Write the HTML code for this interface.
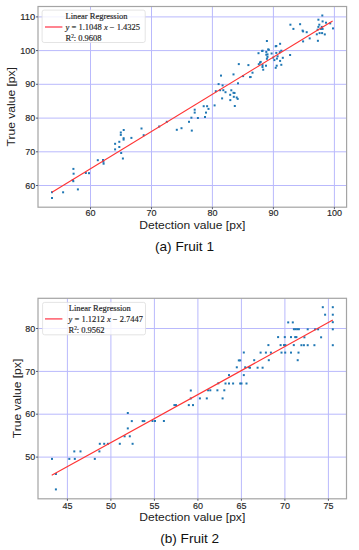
<!DOCTYPE html>
<html><head><meta charset="utf-8"><style>
html,body{margin:0;padding:0;background:#fff;}
body{width:359px;height:550px;overflow:hidden;}
svg{display:block;}
.g{stroke:#b9b9fc;stroke-width:1;}
.f{fill:none;stroke:#a4a4a4;stroke-width:1.2;}
.t{stroke:#555a70;stroke-width:1;}
.p{fill:#1f77b4;}
.r{stroke:#ff3434;stroke-width:1.15;}
.r2{stroke:#ff5060;stroke-width:1.4;}
.lg{fill:#fff;fill-opacity:0.8;stroke:#ddd;stroke-width:0.8;}
.tl{font-family:"Liberation Sans",sans-serif;font-size:9.7px;fill:#262626;stroke:#262626;stroke-width:0.15px;}
.al{font-family:"Liberation Sans",sans-serif;font-size:10.5px;fill:#222;}
.cap{font-family:"Liberation Sans",sans-serif;font-size:12.1px;fill:#111;}
.lt{font-family:"Liberation Serif",serif;font-size:8.5px;fill:#222;stroke:#222;stroke-width:0.15px;}
.sup{font-size:5.5px;}
</style></head><body>
<svg width="359" height="550" viewBox="0 0 359 550">
<rect x="0" y="0" width="359" height="550" fill="#fff"/>
<line x1="90.5" y1="6.5" x2="90.5" y2="207.2" class="g"/>
<line x1="151.5" y1="6.5" x2="151.5" y2="207.2" class="g"/>
<line x1="212.4" y1="6.5" x2="212.4" y2="207.2" class="g"/>
<line x1="273.4" y1="6.5" x2="273.4" y2="207.2" class="g"/>
<line x1="334.4" y1="6.5" x2="334.4" y2="207.2" class="g"/>
<line x1="38.0" y1="185.5" x2="346.6" y2="185.5" class="g"/>
<line x1="38.0" y1="151.8" x2="346.6" y2="151.8" class="g"/>
<line x1="38.0" y1="118.1" x2="346.6" y2="118.1" class="g"/>
<line x1="38.0" y1="84.3" x2="346.6" y2="84.3" class="g"/>
<line x1="38.0" y1="50.6" x2="346.6" y2="50.6" class="g"/>
<line x1="38.0" y1="16.9" x2="346.6" y2="16.9" class="g"/>
<rect x="51.0" y="197.0" width="2" height="2" class="p"/>
<rect x="51.0" y="191.2" width="2" height="2" class="p"/>
<rect x="62.1" y="191.3" width="2" height="2" class="p"/>
<rect x="72.4" y="167.9" width="2" height="2" class="p"/>
<rect x="72.6" y="172.7" width="2" height="2" class="p"/>
<rect x="71.8" y="179.1" width="2" height="2" class="p"/>
<rect x="72.3" y="180.2" width="2" height="2" class="p"/>
<rect x="76.9" y="188.4" width="2" height="2" class="p"/>
<rect x="84.8" y="172.0" width="2" height="2" class="p"/>
<rect x="88.0" y="172.2" width="2" height="2" class="p"/>
<rect x="96.8" y="159.2" width="2" height="2" class="p"/>
<rect x="102.0" y="159.0" width="2" height="2" class="p"/>
<rect x="102.4" y="160.8" width="2" height="2" class="p"/>
<rect x="102.6" y="162.7" width="2" height="2" class="p"/>
<rect x="114.1" y="148.4" width="2" height="2" class="p"/>
<rect x="114.1" y="142.8" width="2" height="2" class="p"/>
<rect x="118.3" y="146.0" width="2" height="2" class="p"/>
<rect x="118.3" y="140.8" width="2" height="2" class="p"/>
<rect x="120.2" y="152.0" width="2" height="2" class="p"/>
<rect x="121.9" y="157.5" width="2" height="2" class="p"/>
<rect x="119.8" y="131.5" width="2" height="2" class="p"/>
<rect x="119.8" y="133.9" width="2" height="2" class="p"/>
<rect x="122.7" y="129.0" width="2" height="2" class="p"/>
<rect x="122.6" y="137.2" width="2" height="2" class="p"/>
<rect x="122.6" y="138.6" width="2" height="2" class="p"/>
<rect x="130.4" y="136.9" width="2" height="2" class="p"/>
<rect x="140.5" y="127.5" width="2" height="2" class="p"/>
<rect x="142.7" y="134.2" width="2" height="2" class="p"/>
<rect x="158.2" y="125.5" width="2" height="2" class="p"/>
<rect x="165.8" y="120.8" width="2" height="2" class="p"/>
<rect x="175.8" y="128.8" width="2" height="2" class="p"/>
<rect x="180.5" y="127.2" width="2" height="2" class="p"/>
<rect x="188.0" y="120.8" width="2" height="2" class="p"/>
<rect x="190.8" y="129.6" width="2" height="2" class="p"/>
<rect x="190.4" y="116.7" width="2" height="2" class="p"/>
<rect x="196.9" y="117.0" width="2" height="2" class="p"/>
<rect x="204.0" y="116.0" width="2" height="2" class="p"/>
<rect x="193.7" y="108.7" width="2" height="2" class="p"/>
<rect x="193.7" y="111.6" width="2" height="2" class="p"/>
<rect x="202.7" y="105.2" width="2" height="2" class="p"/>
<rect x="206.1" y="105.2" width="2" height="2" class="p"/>
<rect x="207.5" y="107.9" width="2" height="2" class="p"/>
<rect x="205.0" y="111.6" width="2" height="2" class="p"/>
<rect x="213.6" y="104.4" width="2" height="2" class="p"/>
<rect x="214.8" y="90.2" width="2" height="2" class="p"/>
<rect x="217.6" y="83.1" width="2" height="2" class="p"/>
<rect x="220.0" y="74.6" width="2" height="2" class="p"/>
<rect x="221.1" y="97.4" width="2" height="2" class="p"/>
<rect x="219.1" y="89.2" width="2" height="2" class="p"/>
<rect x="221.6" y="84.4" width="2" height="2" class="p"/>
<rect x="222.3" y="89.2" width="2" height="2" class="p"/>
<rect x="224.5" y="91.2" width="2" height="2" class="p"/>
<rect x="229.2" y="93.8" width="2" height="2" class="p"/>
<rect x="230.3" y="89.3" width="2" height="2" class="p"/>
<rect x="232.5" y="91.8" width="2" height="2" class="p"/>
<rect x="233.5" y="92.0" width="2" height="2" class="p"/>
<rect x="229.3" y="99.1" width="2" height="2" class="p"/>
<rect x="232.8" y="95.8" width="2" height="2" class="p"/>
<rect x="235.7" y="96.5" width="2" height="2" class="p"/>
<rect x="236.7" y="97.9" width="2" height="2" class="p"/>
<rect x="233.8" y="105.0" width="2" height="2" class="p"/>
<rect x="232.5" y="73.4" width="2" height="2" class="p"/>
<rect x="237.0" y="82.3" width="2" height="2" class="p"/>
<rect x="237.8" y="63.1" width="2" height="2" class="p"/>
<rect x="242.1" y="75.1" width="2" height="2" class="p"/>
<rect x="247.4" y="64.1" width="2" height="2" class="p"/>
<rect x="249.1" y="76.1" width="2" height="2" class="p"/>
<rect x="251.5" y="71.7" width="2" height="2" class="p"/>
<rect x="249.6" y="76.0" width="2" height="2" class="p"/>
<rect x="265.9" y="40.0" width="2" height="2" class="p"/>
<rect x="279.1" y="42.8" width="2" height="2" class="p"/>
<rect x="274.7" y="45.3" width="2" height="2" class="p"/>
<rect x="275.3" y="45.0" width="2" height="2" class="p"/>
<rect x="267.2" y="48.4" width="2" height="2" class="p"/>
<rect x="267.8" y="48.8" width="2" height="2" class="p"/>
<rect x="261.2" y="50.0" width="2" height="2" class="p"/>
<rect x="261.5" y="49.7" width="2" height="2" class="p"/>
<rect x="257.5" y="52.2" width="2" height="2" class="p"/>
<rect x="265.3" y="50.9" width="2" height="2" class="p"/>
<rect x="265.3" y="53.7" width="2" height="2" class="p"/>
<rect x="266.5" y="53.4" width="2" height="2" class="p"/>
<rect x="270.6" y="52.5" width="2" height="2" class="p"/>
<rect x="275.3" y="51.9" width="2" height="2" class="p"/>
<rect x="278.8" y="51.2" width="2" height="2" class="p"/>
<rect x="280.3" y="49.7" width="2" height="2" class="p"/>
<rect x="289.1" y="54.0" width="2" height="2" class="p"/>
<rect x="266.5" y="55.9" width="2" height="2" class="p"/>
<rect x="265.9" y="57.8" width="2" height="2" class="p"/>
<rect x="272.2" y="56.6" width="2" height="2" class="p"/>
<rect x="276.6" y="55.3" width="2" height="2" class="p"/>
<rect x="275.9" y="57.6" width="2" height="2" class="p"/>
<rect x="281.8" y="56.8" width="2" height="2" class="p"/>
<rect x="273.4" y="59.1" width="2" height="2" class="p"/>
<rect x="279.1" y="59.9" width="2" height="2" class="p"/>
<rect x="259.7" y="60.9" width="2" height="2" class="p"/>
<rect x="259.0" y="61.6" width="2" height="2" class="p"/>
<rect x="257.8" y="63.2" width="2" height="2" class="p"/>
<rect x="261.5" y="64.1" width="2" height="2" class="p"/>
<rect x="265.0" y="64.7" width="2" height="2" class="p"/>
<rect x="280.3" y="63.8" width="2" height="2" class="p"/>
<rect x="275.7" y="64.7" width="2" height="2" class="p"/>
<rect x="274.7" y="66.8" width="2" height="2" class="p"/>
<rect x="261.5" y="66.0" width="2" height="2" class="p"/>
<rect x="262.2" y="68.7" width="2" height="2" class="p"/>
<rect x="289.4" y="23.7" width="2" height="2" class="p"/>
<rect x="292.4" y="27.9" width="2" height="2" class="p"/>
<rect x="299.1" y="23.2" width="2" height="2" class="p"/>
<rect x="301.6" y="29.6" width="2" height="2" class="p"/>
<rect x="302.1" y="30.4" width="2" height="2" class="p"/>
<rect x="305.7" y="31.2" width="2" height="2" class="p"/>
<rect x="302.1" y="40.4" width="2" height="2" class="p"/>
<rect x="308.7" y="37.4" width="2" height="2" class="p"/>
<rect x="316.9" y="39.8" width="2" height="2" class="p"/>
<rect x="315.8" y="33.3" width="2" height="2" class="p"/>
<rect x="318.6" y="32.1" width="2" height="2" class="p"/>
<rect x="321.1" y="32.1" width="2" height="2" class="p"/>
<rect x="323.8" y="33.4" width="2" height="2" class="p"/>
<rect x="316.6" y="28.7" width="2" height="2" class="p"/>
<rect x="317.4" y="25.9" width="2" height="2" class="p"/>
<rect x="318.3" y="23.7" width="2" height="2" class="p"/>
<rect x="320.0" y="27.9" width="2" height="2" class="p"/>
<rect x="320.8" y="25.9" width="2" height="2" class="p"/>
<rect x="321.6" y="27.9" width="2" height="2" class="p"/>
<rect x="317.4" y="18.7" width="2" height="2" class="p"/>
<rect x="321.6" y="20.4" width="2" height="2" class="p"/>
<rect x="321.3" y="14.5" width="2" height="2" class="p"/>
<rect x="325.0" y="21.7" width="2" height="2" class="p"/>
<rect x="329.2" y="22.4" width="2" height="2" class="p"/>
<rect x="332.0" y="27.4" width="2" height="2" class="p"/>
<line x1="52.0" y1="192.3" x2="332.6" y2="20.9" class="r"/>
<rect x="42.1" y="10.1" width="103.1" height="32.4" rx="2" class="lg"/>
<line x1="45.0" y1="27.0" x2="62.4" y2="27.0" class="r2"/>
<text x="96.5" y="19.3" class="lt" text-anchor="middle">Linear Regression</text>
<text x="65.6" y="30.2" class="lt"><tspan font-style="italic">y</tspan> = 1.1048 <tspan font-style="italic">x</tspan> − 1.4325</text>
<text x="65.6" y="40.9" class="lt">R<tspan class="sup" dy="-3.0">2</tspan><tspan dx="-0.3" dy="3.0">: 0.9608</tspan></text>
<rect x="38.0" y="6.5" width="308.6" height="200.7" class="f"/>
<line x1="90.5" y1="207.2" x2="90.5" y2="209.2" class="t"/>
<line x1="151.5" y1="207.2" x2="151.5" y2="209.2" class="t"/>
<line x1="212.4" y1="207.2" x2="212.4" y2="209.2" class="t"/>
<line x1="273.4" y1="207.2" x2="273.4" y2="209.2" class="t"/>
<line x1="334.4" y1="207.2" x2="334.4" y2="209.2" class="t"/>
<line x1="36.0" y1="185.5" x2="38.0" y2="185.5" class="t"/>
<line x1="36.0" y1="151.8" x2="38.0" y2="151.8" class="t"/>
<line x1="36.0" y1="118.1" x2="38.0" y2="118.1" class="t"/>
<line x1="36.0" y1="84.3" x2="38.0" y2="84.3" class="t"/>
<line x1="36.0" y1="50.6" x2="38.0" y2="50.6" class="t"/>
<line x1="36.0" y1="16.9" x2="38.0" y2="16.9" class="t"/>
<text x="90.5" y="216.29999999999998" class="tl" text-anchor="middle" textLength="10.00" lengthAdjust="spacingAndGlyphs">60</text>
<text x="151.5" y="216.29999999999998" class="tl" text-anchor="middle" textLength="10.00" lengthAdjust="spacingAndGlyphs">70</text>
<text x="212.4" y="216.29999999999998" class="tl" text-anchor="middle" textLength="10.00" lengthAdjust="spacingAndGlyphs">80</text>
<text x="273.4" y="216.29999999999998" class="tl" text-anchor="middle" textLength="10.00" lengthAdjust="spacingAndGlyphs">90</text>
<text x="334.4" y="216.29999999999998" class="tl" text-anchor="middle" textLength="15.00" lengthAdjust="spacingAndGlyphs">100</text>
<text x="35.3" y="188.6" class="tl" text-anchor="end" textLength="10.00" lengthAdjust="spacingAndGlyphs">60</text>
<text x="35.3" y="154.9" class="tl" text-anchor="end" textLength="10.00" lengthAdjust="spacingAndGlyphs">70</text>
<text x="35.3" y="121.19999999999999" class="tl" text-anchor="end" textLength="10.00" lengthAdjust="spacingAndGlyphs">80</text>
<text x="35.3" y="87.39999999999999" class="tl" text-anchor="end" textLength="10.00" lengthAdjust="spacingAndGlyphs">90</text>
<text x="35.3" y="53.7" class="tl" text-anchor="end" textLength="15.00" lengthAdjust="spacingAndGlyphs">100</text>
<text x="35.3" y="20.0" class="tl" text-anchor="end" textLength="15.00" lengthAdjust="spacingAndGlyphs">110</text>
<text x="192.3" y="228.7" class="al" text-anchor="middle" textLength="106" lengthAdjust="spacingAndGlyphs">Detection value [px]</text>
<text transform="translate(15.3,106.8) rotate(-90)" x="0" y="0" class="al" text-anchor="middle" textLength="79.5" lengthAdjust="spacingAndGlyphs">True value [px]</text>
<text x="184.5" y="251.0" class="cap" text-anchor="middle" textLength="59" lengthAdjust="spacingAndGlyphs">(a) Fruit 1</text>
<line x1="67.4" y1="298.3" x2="67.4" y2="498.8" class="g"/>
<line x1="110.9" y1="298.3" x2="110.9" y2="498.8" class="g"/>
<line x1="154.4" y1="298.3" x2="154.4" y2="498.8" class="g"/>
<line x1="197.9" y1="298.3" x2="197.9" y2="498.8" class="g"/>
<line x1="241.4" y1="298.3" x2="241.4" y2="498.8" class="g"/>
<line x1="284.9" y1="298.3" x2="284.9" y2="498.8" class="g"/>
<line x1="328.4" y1="298.3" x2="328.4" y2="498.8" class="g"/>
<line x1="38.0" y1="457.1" x2="346.5" y2="457.1" class="g"/>
<line x1="38.0" y1="414.2" x2="346.5" y2="414.2" class="g"/>
<line x1="38.0" y1="371.4" x2="346.5" y2="371.4" class="g"/>
<line x1="38.0" y1="328.5" x2="346.5" y2="328.5" class="g"/>
<rect x="51.0" y="457.9" width="2" height="2" class="p"/>
<rect x="54.9" y="473.0" width="2" height="2" class="p"/>
<rect x="54.9" y="488.4" width="2" height="2" class="p"/>
<rect x="68.3" y="457.9" width="2" height="2" class="p"/>
<rect x="73.8" y="457.9" width="2" height="2" class="p"/>
<rect x="73.3" y="450.4" width="2" height="2" class="p"/>
<rect x="79.5" y="450.4" width="2" height="2" class="p"/>
<rect x="93.8" y="457.9" width="2" height="2" class="p"/>
<rect x="98.4" y="450.4" width="2" height="2" class="p"/>
<rect x="98.8" y="442.8" width="2" height="2" class="p"/>
<rect x="103.2" y="442.8" width="2" height="2" class="p"/>
<rect x="106.9" y="442.8" width="2" height="2" class="p"/>
<rect x="118.8" y="442.8" width="2" height="2" class="p"/>
<rect x="123.6" y="435.3" width="2" height="2" class="p"/>
<rect x="128.8" y="435.3" width="2" height="2" class="p"/>
<rect x="131.6" y="442.8" width="2" height="2" class="p"/>
<rect x="126.8" y="427.4" width="2" height="2" class="p"/>
<rect x="130.8" y="420.1" width="2" height="2" class="p"/>
<rect x="141.7" y="420.1" width="2" height="2" class="p"/>
<rect x="143.3" y="420.1" width="2" height="2" class="p"/>
<rect x="126.8" y="412.0" width="2" height="2" class="p"/>
<rect x="151.5" y="420.0" width="2" height="2" class="p"/>
<rect x="154.0" y="420.0" width="2" height="2" class="p"/>
<rect x="162.9" y="420.0" width="2" height="2" class="p"/>
<rect x="173.4" y="404.1" width="2" height="2" class="p"/>
<rect x="175.0" y="404.1" width="2" height="2" class="p"/>
<rect x="187.8" y="404.1" width="2" height="2" class="p"/>
<rect x="192.0" y="404.1" width="2" height="2" class="p"/>
<rect x="189.8" y="397.4" width="2" height="2" class="p"/>
<rect x="189.8" y="389.5" width="2" height="2" class="p"/>
<rect x="198.9" y="397.4" width="2" height="2" class="p"/>
<rect x="205.8" y="397.4" width="2" height="2" class="p"/>
<rect x="221.6" y="397.4" width="2" height="2" class="p"/>
<rect x="207.1" y="389.3" width="2" height="2" class="p"/>
<rect x="209.3" y="389.3" width="2" height="2" class="p"/>
<rect x="216.4" y="389.3" width="2" height="2" class="p"/>
<rect x="223.3" y="389.3" width="2" height="2" class="p"/>
<rect x="217.3" y="382.3" width="2" height="2" class="p"/>
<rect x="224.5" y="382.5" width="2" height="2" class="p"/>
<rect x="228.0" y="382.5" width="2" height="2" class="p"/>
<rect x="232.1" y="382.5" width="2" height="2" class="p"/>
<rect x="239.2" y="382.5" width="2" height="2" class="p"/>
<rect x="240.5" y="382.5" width="2" height="2" class="p"/>
<rect x="245.5" y="382.5" width="2" height="2" class="p"/>
<rect x="228.0" y="374.1" width="2" height="2" class="p"/>
<rect x="242.8" y="374.1" width="2" height="2" class="p"/>
<rect x="235.8" y="366.3" width="2" height="2" class="p"/>
<rect x="244.2" y="366.3" width="2" height="2" class="p"/>
<rect x="247.9" y="366.3" width="2" height="2" class="p"/>
<rect x="237.8" y="359.4" width="2" height="2" class="p"/>
<rect x="239.2" y="359.4" width="2" height="2" class="p"/>
<rect x="242.8" y="351.5" width="2" height="2" class="p"/>
<rect x="249.0" y="366.7" width="2" height="2" class="p"/>
<rect x="256.6" y="366.7" width="2" height="2" class="p"/>
<rect x="261.6" y="366.7" width="2" height="2" class="p"/>
<rect x="253.2" y="359.2" width="2" height="2" class="p"/>
<rect x="259.6" y="351.6" width="2" height="2" class="p"/>
<rect x="264.9" y="351.6" width="2" height="2" class="p"/>
<rect x="269.9" y="351.6" width="2" height="2" class="p"/>
<rect x="267.8" y="359.2" width="2" height="2" class="p"/>
<rect x="267.4" y="344.1" width="2" height="2" class="p"/>
<rect x="280.5" y="351.6" width="2" height="2" class="p"/>
<rect x="284.2" y="351.6" width="2" height="2" class="p"/>
<rect x="290.0" y="351.6" width="2" height="2" class="p"/>
<rect x="296.7" y="359.2" width="2" height="2" class="p"/>
<rect x="297.5" y="351.6" width="2" height="2" class="p"/>
<rect x="279.6" y="344.1" width="2" height="2" class="p"/>
<rect x="283.0" y="344.1" width="2" height="2" class="p"/>
<rect x="284.4" y="344.1" width="2" height="2" class="p"/>
<rect x="292.8" y="344.1" width="2" height="2" class="p"/>
<rect x="277.1" y="336.1" width="2" height="2" class="p"/>
<rect x="283.8" y="336.1" width="2" height="2" class="p"/>
<rect x="290.0" y="336.1" width="2" height="2" class="p"/>
<rect x="294.2" y="336.1" width="2" height="2" class="p"/>
<rect x="295.4" y="336.1" width="2" height="2" class="p"/>
<rect x="287.2" y="321.4" width="2" height="2" class="p"/>
<rect x="291.8" y="321.4" width="2" height="2" class="p"/>
<rect x="292.9" y="328.2" width="2" height="2" class="p"/>
<rect x="294.5" y="328.2" width="2" height="2" class="p"/>
<rect x="296.2" y="328.2" width="2" height="2" class="p"/>
<rect x="297.9" y="328.2" width="2" height="2" class="p"/>
<rect x="306.7" y="328.3" width="2" height="2" class="p"/>
<rect x="314.1" y="328.3" width="2" height="2" class="p"/>
<rect x="317.1" y="328.3" width="2" height="2" class="p"/>
<rect x="331.8" y="328.3" width="2" height="2" class="p"/>
<rect x="303.4" y="336.3" width="2" height="2" class="p"/>
<rect x="320.1" y="336.3" width="2" height="2" class="p"/>
<rect x="300.4" y="344.2" width="2" height="2" class="p"/>
<rect x="302.9" y="344.2" width="2" height="2" class="p"/>
<rect x="306.7" y="344.2" width="2" height="2" class="p"/>
<rect x="313.4" y="344.2" width="2" height="2" class="p"/>
<rect x="331.8" y="344.2" width="2" height="2" class="p"/>
<rect x="321.8" y="306.2" width="2" height="2" class="p"/>
<rect x="331.8" y="306.2" width="2" height="2" class="p"/>
<rect x="324.1" y="313.7" width="2" height="2" class="p"/>
<rect x="331.8" y="313.7" width="2" height="2" class="p"/>
<rect x="331.8" y="321.2" width="2" height="2" class="p"/>
<line x1="51.7" y1="475.3" x2="332.8" y2="320.1" class="r"/>
<rect x="42.6" y="302.4" width="102.9" height="32.400000000000034" rx="2" class="lg"/>
<line x1="45.0" y1="318.9" x2="62.4" y2="318.9" class="r2"/>
<text x="99.8" y="310.6" class="lt" text-anchor="middle">Linear Regression</text>
<text x="68.6" y="321.6" class="lt"><tspan font-style="italic">y</tspan> = 1.1212 <tspan font-style="italic">x</tspan> − 2.7447</text>
<text x="68.6" y="332.5" class="lt">R<tspan class="sup" dy="-3.0">2</tspan><tspan dx="-0.3" dy="3.0">: 0.9562</tspan></text>
<rect x="38.0" y="298.3" width="308.5" height="200.5" class="f"/>
<line x1="67.4" y1="498.8" x2="67.4" y2="500.8" class="t"/>
<line x1="110.9" y1="498.8" x2="110.9" y2="500.8" class="t"/>
<line x1="154.4" y1="498.8" x2="154.4" y2="500.8" class="t"/>
<line x1="197.9" y1="498.8" x2="197.9" y2="500.8" class="t"/>
<line x1="241.4" y1="498.8" x2="241.4" y2="500.8" class="t"/>
<line x1="284.9" y1="498.8" x2="284.9" y2="500.8" class="t"/>
<line x1="328.4" y1="498.8" x2="328.4" y2="500.8" class="t"/>
<line x1="36.0" y1="457.1" x2="38.0" y2="457.1" class="t"/>
<line x1="36.0" y1="414.2" x2="38.0" y2="414.2" class="t"/>
<line x1="36.0" y1="371.4" x2="38.0" y2="371.4" class="t"/>
<line x1="36.0" y1="328.5" x2="38.0" y2="328.5" class="t"/>
<text x="67.4" y="508.5" class="tl" text-anchor="middle" textLength="10.00" lengthAdjust="spacingAndGlyphs">45</text>
<text x="110.9" y="508.5" class="tl" text-anchor="middle" textLength="10.00" lengthAdjust="spacingAndGlyphs">50</text>
<text x="154.4" y="508.5" class="tl" text-anchor="middle" textLength="10.00" lengthAdjust="spacingAndGlyphs">55</text>
<text x="197.9" y="508.5" class="tl" text-anchor="middle" textLength="10.00" lengthAdjust="spacingAndGlyphs">60</text>
<text x="241.4" y="508.5" class="tl" text-anchor="middle" textLength="10.00" lengthAdjust="spacingAndGlyphs">65</text>
<text x="284.9" y="508.5" class="tl" text-anchor="middle" textLength="10.00" lengthAdjust="spacingAndGlyphs">70</text>
<text x="328.4" y="508.5" class="tl" text-anchor="middle" textLength="10.00" lengthAdjust="spacingAndGlyphs">75</text>
<text x="35.3" y="460.20000000000005" class="tl" text-anchor="end" textLength="10.00" lengthAdjust="spacingAndGlyphs">50</text>
<text x="35.3" y="417.3" class="tl" text-anchor="end" textLength="10.00" lengthAdjust="spacingAndGlyphs">60</text>
<text x="35.3" y="374.5" class="tl" text-anchor="end" textLength="10.00" lengthAdjust="spacingAndGlyphs">70</text>
<text x="35.3" y="331.6" class="tl" text-anchor="end" textLength="10.00" lengthAdjust="spacingAndGlyphs">80</text>
<text x="192.25" y="520.6" class="al" text-anchor="middle" textLength="106" lengthAdjust="spacingAndGlyphs">Detection value [px]</text>
<text transform="translate(20.8,398.5) rotate(-90)" x="0" y="0" class="al" text-anchor="middle" textLength="79.5" lengthAdjust="spacingAndGlyphs">True value [px]</text>
<text x="189.7" y="543.2" class="cap" text-anchor="middle" textLength="59" lengthAdjust="spacingAndGlyphs">(b) Fruit 2</text>
</svg>
</body></html>
